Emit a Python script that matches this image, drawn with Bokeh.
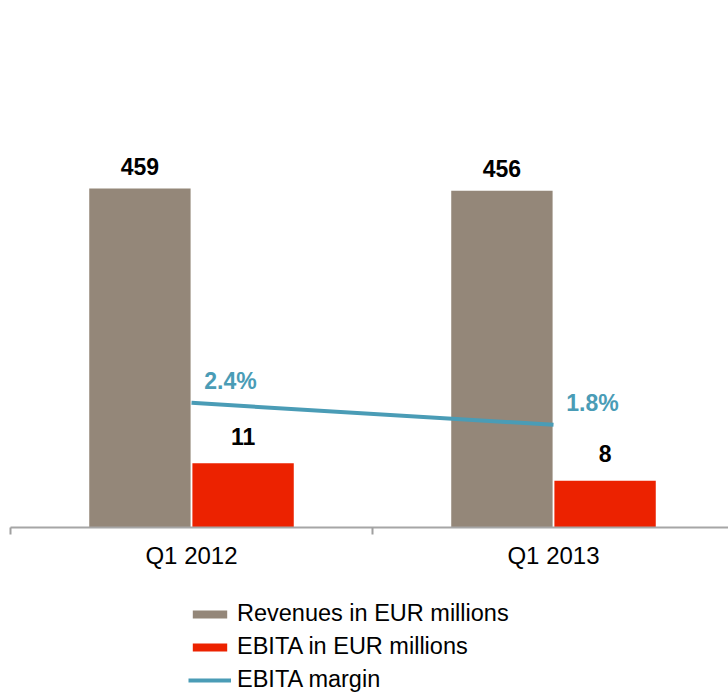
import numpy as np
from bokeh.plotting import figure
from bokeh.layouts import column
from bokeh.core.properties import value
from bokeh.models import (Range1d, LinearAxis, FixedTicker, Legend, LegendItem,
                          ColumnDataSource)
from bokeh.embed import file_html
from bokeh.resources import INLINE

# ---- data ----
categories = ["Q1 2012", "Q1 2013"]
revenues = [459, 456]          # EUR millions
ebita = [11, 8]                # EUR millions
ebita_margin = [2.4, 1.8]      # percent
legend_labels = ["Revenues in EUR millions", "EBITA in EUR millions", "EBITA margin"]

REV_COLOR = "#948779"
EBITA_COLOR = "#EC2200"
MARGIN_COLOR = "#4A9CB6"
FONT = "Liberation Sans"

idx = np.arange(len(categories))
centers = idx + 0.5
bar_w = 0.28
rev_x = centers - 0.1425
ebita_x = centers + 0.1425

W = 728
p = figure(width=W, height=599, output_backend="svg", toolbar_location=None,
           x_range=Range1d(0, (W - 10) / 362), y_range=Range1d(0, 700),
           y_axis_location=None, x_axis_location=None,
           min_border_top=10, min_border_left=10, min_border_right=0,
           min_border_bottom=72)
p.outline_line_color = None
p.grid.visible = False

p.extra_y_ranges = {"ebita": Range1d(0, 88.45), "margin": Range1d(-1.0, 13.1)}

rev_src = ColumnDataSource(dict(x=rev_x, top=revenues, lbl=[str(v) for v in revenues]))
eb_src = ColumnDataSource(dict(x=ebita_x, top=ebita, lbl=[str(v) for v in ebita]))
m_src = ColumnDataSource(dict(x=centers, y=ebita_margin, lbl=[f"{v}%" for v in ebita_margin]))

p.vbar(x="x", top="top", width=bar_w, bottom=0, source=rev_src,
       fill_color=REV_COLOR, line_color=None)
p.vbar(x="x", top="top", width=bar_w, bottom=0, source=eb_src,
       fill_color=EBITA_COLOR, line_color=None, y_range_name="ebita")
p.line(x="x", y="y", source=m_src, line_color=MARGIN_COLOR, line_width=4,
       y_range_name="margin")

p.text(x="x", y="top", text="lbl", source=rev_src, text_align="center",
       text_baseline="middle", y_offset=-22, text_font=value(FONT),
       text_font_size="23px", text_font_style="bold", text_color="black")
p.text(x="x", y="top", text="lbl", source=eb_src, text_align="center",
       text_baseline="middle", y_offset=-27, text_font=value(FONT),
       text_font_size="23px", text_font_style="bold", text_color="black",
       y_range_name="ebita")
p.text(x="x", y="y", text="lbl", source=m_src, text_align="center",
       text_baseline="middle", x_offset=39, y_offset=-22, text_font=value(FONT),
       text_font_size="23px", text_font_style="bold", text_color=MARGIN_COLOR,
       y_range_name="margin")

# category axis: labels at centres, boundary ticks as minor ticks
xaxis = LinearAxis(ticker=FixedTicker(ticks=list(centers),
                                      minor_ticks=[float(i) for i in range(len(categories) + 1)]))
xaxis.major_label_overrides = {float(c): cat for c, cat in zip(centers, categories)}
xaxis.major_tick_line_color = None
xaxis.major_tick_out = 0
xaxis.major_tick_in = 0
xaxis.minor_tick_line_color = "#A0A0A0"
xaxis.minor_tick_line_width = 2
xaxis.minor_tick_out = 7
xaxis.minor_tick_in = 0
xaxis.axis_line_color = "#A6A6A6"
xaxis.axis_line_width = 2
xaxis.major_label_standoff = 7
xaxis.major_label_text_font = FONT
xaxis.major_label_text_font_size = "24px"
xaxis.major_label_text_color = "black"
p.add_layout(xaxis, "below")

# ---- legend figure (its glyphs lie outside the visible ranges; only the legend shows) ----
lg = figure(width=W, height=94, output_backend="svg", toolbar_location=None,
            x_range=Range1d(0, 2), y_range=Range1d(1000, 2000),
            x_axis_location=None, y_axis_location=None,
            min_border=0)
lg.outline_line_color = None
lg.grid.visible = False
g1 = lg.vbar(x=rev_x, top=revenues, width=bar_w, fill_color=REV_COLOR, line_color=None)
g2 = lg.vbar(x=ebita_x, top=ebita, width=bar_w, fill_color=EBITA_COLOR, line_color=None)
g3 = lg.line(x=centers, y=ebita_margin, line_color=MARGIN_COLOR, line_width=4)
legend = Legend(items=[LegendItem(label=l, renderers=[r])
                       for l, r in zip(legend_labels, [g1, g2, g3])],
                location=(178, 0), orientation="vertical",
                glyph_width=43, glyph_height=10, label_standoff=6, spacing=6,
                padding=0, margin=0, border_line_color=None, background_fill_alpha=0,
                label_text_font=FONT, label_text_font_size="23.5px",
                label_text_color="black")
lg.add_layout(legend, "center")

layout = column(p, lg, spacing=0)
open("out.html", "w").write(file_html(layout, INLINE))
